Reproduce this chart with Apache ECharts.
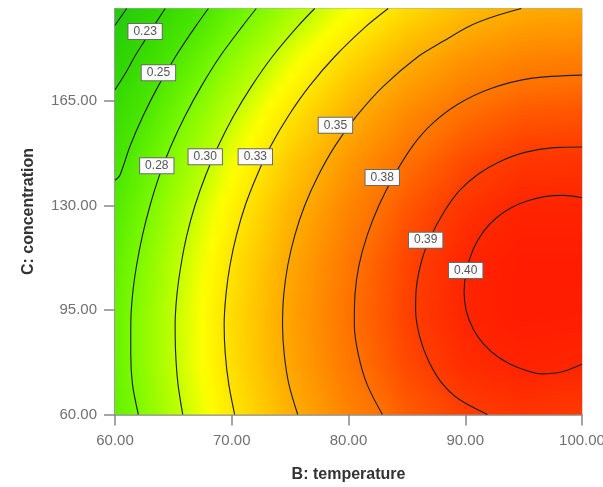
<!DOCTYPE html>
<html><head><meta charset="utf-8">
<script src="https://cdn.jsdelivr.net/npm/echarts@6/dist/echarts.min.js"></script>
<style>html,body{margin:0;padding:0;background:#fff}#c{width:603px;height:487px}</style>
</head><body><div id="c"></div>
<script>
// ---- data ----
const tempX = [60, 65, 70, 75, 80, 85, 90, 95, 100];
const concY = [60, 77, 94, 111, 128, 145, 162, 179, 196];
// response at (tempX[i], concY[j]); rows by concY
const response = [
  [0.2668, 0.3001, 0.3283, 0.3515, 0.3697, 0.3829, 0.3911, 0.3943, 0.3925],
  [0.2699, 0.3036, 0.3323, 0.3560, 0.3747, 0.3885, 0.3972, 0.4009, 0.3996],
  [0.2695, 0.3038, 0.3330, 0.3572, 0.3765, 0.3907, 0.3999, 0.4041, 0.4034],
  [0.2659, 0.3006, 0.3303, 0.3551, 0.3748, 0.3896, 0.3993, 0.4040, 0.4038],
  [0.2588, 0.2941, 0.3243, 0.3496, 0.3698, 0.3851, 0.3953, 0.4006, 0.4008],
  [0.2485, 0.2842, 0.3150, 0.3408, 0.3615, 0.3773, 0.3880, 0.3938, 0.3946],
  [0.2348, 0.2710, 0.3023, 0.3286, 0.3498, 0.3661, 0.3774, 0.3836, 0.3849],
  [0.2177, 0.2545, 0.2863, 0.3130, 0.3348, 0.3516, 0.3634, 0.3702, 0.3719],
  [0.1973, 0.2346, 0.2669, 0.2942, 0.3164, 0.3337, 0.3460, 0.3533, 0.3556]
];
const xTicks = [60, 70, 80, 90, 100];
const yTicks = [60, 95, 130, 165];

// contour lines [temperature, concentration]
const contour020 = [[60, 190.4], [60.5, 193.2], [61.0, 196]];
const contour023 = [[60, 168.8], [61.0, 175], [61.7, 180], [62.5, 185], [63.3, 190], [64.3, 196]];
const contour025 = [[60, 138.5], [60.4, 140], [61.3, 150], [62.4, 160], [63.7, 170], [65.2, 180], [66.9, 190], [68.0, 196]];
const contour028 = [[62.0, 60], [61.5, 70], [61.35, 80], [61.35, 90], [61.5, 100], [61.85, 110], [62.35, 120], [63.0, 130], [63.8, 140], [64.8, 150], [66.0, 160], [67.4, 170], [69.0, 180], [70.9, 190], [72.1, 196]];
const contour030 = [[65.8, 60], [65.4, 70], [65.2, 80], [65.15, 90], [65.3, 100], [65.65, 110], [66.15, 120], [66.85, 130], [67.75, 140], [68.85, 150], [70.15, 160], [71.7, 170], [73.5, 180], [75.65, 190], [77.1, 196]];
const contour033 = [[70.25, 60], [69.75, 70], [69.45, 80], [69.35, 90], [69.5, 100], [69.85, 110], [70.4, 120], [71.15, 130], [72.15, 140], [73.35, 150], [74.85, 160], [76.65, 170], [78.85, 180], [81.5, 190], [83.4, 196]];
const contour035 = [[75.65, 60], [74.9, 70], [74.5, 80], [74.35, 90], [74.45, 100], [74.8, 110], [75.4, 120], [76.25, 130], [77.4, 140], [78.85, 150], [80.7, 160], [83.0, 170], [86.0, 180], [88.1, 185], [90.3, 190], [92.2, 193], [94.8, 196]];
const contour038 = [[82.9, 60], [81.6, 70], [80.85, 80], [80.5, 90], [80.55, 100], [80.9, 110], [81.6, 120], [82.6, 130], [83.9, 140], [85.5, 150], [87.2, 157.5], [89.4, 164], [92.2, 169.2], [95.6, 172.6], [100, 173.7]];
const contour039 = [[91.9, 60], [89.5, 65], [88.0, 70.5], [86.85, 78], [86.1, 86], [85.75, 95], [85.8, 102], [86.3, 112], [87.1, 120], [88.2, 128], [89.5, 135], [91.1, 140.5], [92.9, 144.6], [95.1, 147.8], [97.6, 149.4], [100, 149.6]];
const contour040 = [[100, 132.6], [98.4, 133.4], [96.8, 133.0], [95.3, 131.5], [93.9, 129.2], [92.7, 126.0], [91.6, 121.5], [90.7, 115.5], [90.1, 108], [89.9, 101], [90.1, 94.5], [90.7, 88.5], [91.6, 83.5], [92.9, 79], [94.6, 75.6], [96.5, 73.6], [98.3, 74.3], [100, 76.8]];

const contourLabels = [
  [62.58, 188.3, '0.23'], [63.72, 174.5, '0.25'], [63.58, 143.3, '0.28'],
  [67.73, 146.3, '0.30'], [72.02, 146.3, '0.33'], [78.88, 156.9, '0.35'],
  [82.89, 139.4, '0.38'], [86.61, 118.4, '0.39'], [90.04, 108.2, '0.40']
];

// ---- colour scale (style) ----
const colorScale = [
  [0.195, '#22c814'], [0.2275, '#33d800'], [0.2525, '#4ae600'], [0.2775, '#77f800'],
  [0.3025, '#bbff00'], [0.318, '#ffff00'], [0.3275, '#ffea00'], [0.3525, '#ffae00'],
  [0.3775, '#ff7000'], [0.3925, '#ff3a00'], [0.40, '#ff2400'], [0.406, '#ff1800']
];
const scaleRGB = colorScale.map(s => [s[0], [parseInt(s[1].slice(1,3),16), parseInt(s[1].slice(3,5),16), parseInt(s[1].slice(5,7),16)]]);
function colorFor(v) {
  if (v <= scaleRGB[0][0]) return 'rgb(' + scaleRGB[0][1].join(',') + ')';
  for (let i = 1; i < scaleRGB.length; i++) {
    if (v <= scaleRGB[i][0]) {
      const a = scaleRGB[i-1], b = scaleRGB[i];
      const t = (v - a[0]) / (b[0] - a[0]);
      const c = a[1].map((x, k) => Math.round(x + (b[1][k] - x) * t));
      return 'rgb(' + c.join(',') + ')';
    }
  }
  return 'rgb(' + scaleRGB[scaleRGB.length-1][1].join(',') + ')';
}

function renderItem(params, api) {
  const j = api.value(2);
  const y0 = concY[j], y1 = concY[j + 1];
  const pTL = api.coord([tempX[0], y1]);
  const pBR = api.coord([tempX[tempX.length - 1], y0]);
  const left = pTL[0], right = pBR[0], top = pTL[1], bottom = pBR[1];
  const n = Math.max(1, Math.ceil((bottom - top) / 2));
  const h = (bottom - top) / n;
  const span = tempX[tempX.length - 1] - tempX[0];
  const children = [];
  for (let k = 0; k < n; k++) {
    const t = (k + 0.5) / n;
    const vals = tempX.map((_, i) => response[j][i] * (1 - t) + response[j + 1][i] * t);
    const stops = [];
    for (let i = 0; i < tempX.length - 1; i++) {
      const sub = 6;
      for (let s = 0; s < sub; s++) {
        const u = s / sub;
        const v = vals[i] * (1 - u) + vals[i + 1] * u;
        stops.push({ offset: (tempX[i] + u * (tempX[i + 1] - tempX[i]) - tempX[0]) / span, color: colorFor(v) });
      }
    }
    stops.push({ offset: 1, color: colorFor(vals[vals.length - 1]) });
    const yTop = bottom - (k + 1) * h;
    children.push({
      type: 'rect',
      shape: { x: left, y: yTop - 0.5, width: right - left, height: h + 1 },
      style: { fill: new echarts.graphic.LinearGradient(0, 0, 1, 0, stops) }
    });
  }
  return { type: 'group', children };
}

const chart = echarts.init(document.getElementById('c'), null, { renderer: 'canvas' });
const FONT = "'Liberation Sans', Arial, sans-serif";
const contours = [contour020, contour023, contour025, contour028, contour030, contour033, contour035, contour038, contour039, contour040];
const contourSeries = contours.map(d => ({
  type: 'line', data: d, smooth: 0.3, showSymbol: false, symbol: 'none',
  lineStyle: { color: '#222', width: 1.15 }, silent: true, z: 3, clip: true
}));

chart.setOption({
  animation: false,
  backgroundColor: '#fff',
  grid: { left: 115, right: 21, top: 8.5, bottom: 72.5, containLabel: false, outerBoundsMode: 'none',
          show: true, borderColor: '#aaa', borderWidth: 1 },
  xAxis: {
    type: 'value', min: 60, max: 100, interval: 10,
    name: 'B: temperature', nameLocation: 'middle', nameGap: 52,
    nameTextStyle: { fontWeight: 'bold', fontSize: 16, color: '#333', fontFamily: FONT },
    axisLine: { show: true, onZero: false, lineStyle: { color: '#888', width: 1.5 } },
    axisTick: { show: true, length: 11, customValues: xTicks, lineStyle: { color: '#888', width: 1.5 } },
    axisLabel: { customValues: xTicks, formatter: v => Number(v).toFixed(2), fontSize: 15, color: '#707070', margin: 19, fontFamily: FONT },
    splitLine: { show: false }
  },
  yAxis: {
    type: 'value', min: 60, max: 196,
    name: 'C: concentration', nameLocation: 'middle', nameGap: 78,
    nameTextStyle: { fontWeight: 'bold', fontSize: 16, color: '#333', fontFamily: FONT },
    axisLine: { show: true, onZero: false, lineStyle: { color: '#888', width: 1.5 } },
    axisTick: { show: true, length: 11, customValues: yTicks, lineStyle: { color: '#888', width: 1.5 } },
    axisLabel: { customValues: yTicks, formatter: v => Number(v).toFixed(2), fontSize: 15, color: '#707070', margin: 18, fontFamily: FONT },
    splitLine: { show: false }
  },
  series: [
    {
      type: 'custom', renderItem: renderItem, clip: true, silent: true, z: 1,
      data: concY.slice(0, -1).map((y, j) => [tempX[0], y, j])
    },
    ...contourSeries,
    {
      type: 'scatter', z: 5, silent: true, symbolSize: 1,
      itemStyle: { color: 'rgba(0,0,0,0)', opacity: 1 },
      data: contourLabels.map(l => ({ value: [l[0], l[1]], name: l[2] })),
      label: {
        show: true, position: 'inside', formatter: p => p.name,
        fontSize: 12, lineHeight: 12, color: '#555', fontFamily: FONT,
        backgroundColor: '#fbfbfb', borderColor: '#6a6a6a', borderWidth: 1, padding: [2, 5, 1, 5]
      }
    }
  ]
});
</script>
</body></html>
